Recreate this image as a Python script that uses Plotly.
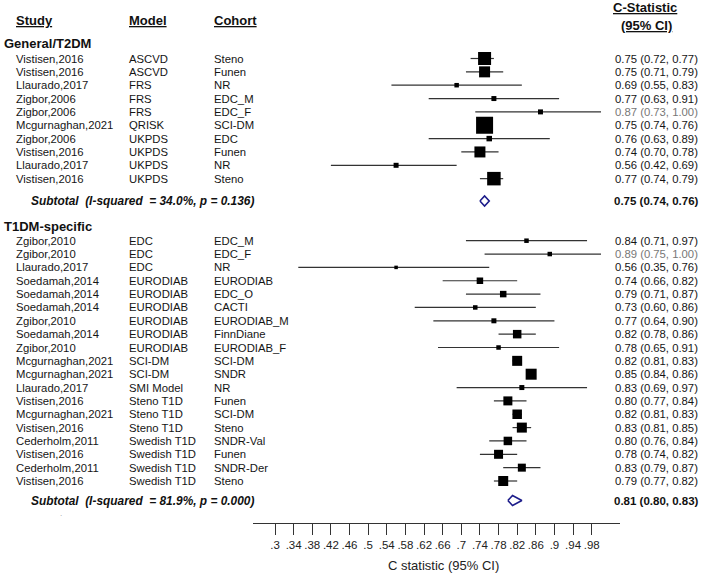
import plotly.graph_objects as go

# General/T2DM
study_t2 = ["Vistisen,2016", "Vistisen,2016", "Llaurado,2017", "Zigbor,2006", "Zigbor,2006",
            "Mcgurnaghan,2021", "Zigbor,2006", "Vistisen,2016", "Llaurado,2017", "Vistisen,2016"]
model_t2 = ["ASCVD", "ASCVD", "FRS", "FRS", "FRS", "QRISK", "UKPDS", "UKPDS", "UKPDS", "UKPDS"]
cohort_t2 = ["Steno", "Funen", "NR", "EDC_M", "EDC_F", "SCI-DM", "EDC", "Funen", "NR", "Steno"]
est_t2 = [0.75, 0.75, 0.69, 0.77, 0.87, 0.75, 0.76, 0.74, 0.56, 0.77]
lo_t2 = [0.72, 0.71, 0.55, 0.63, 0.73, 0.74, 0.63, 0.70, 0.42, 0.74]
hi_t2 = [0.77, 0.79, 0.83, 0.91, 1.00, 0.76, 0.89, 0.78, 0.69, 0.79]
weight_t2 = [13, 11, 4.5, 5, 5, 17, 5.5, 11, 5, 13.5]   # box widths
sub_t2 = (0.75, 0.74, 0.76)
het_t2 = "I-squared  = 34.0%, p = 0.136"

# T1DM-specific
study_t1 = ["Zgibor,2010", "Zgibor,2010", "Llaurado,2017", "Soedamah,2014", "Soedamah,2014",
            "Soedamah,2014", "Zgibor,2010", "Soedamah,2014", "Zgibor,2010", "Mcgurnaghan,2021",
            "Mcgurnaghan,2021", "Llaurado,2017", "Vistisen,2016", "Mcgurnaghan,2021",
            "Vistisen,2016", "Cederholm,2011", "Vistisen,2016", "Cederholm,2011", "Vistisen,2016"]
model_t1 = ["EDC", "EDC", "EDC", "EURODIAB", "EURODIAB", "EURODIAB", "EURODIAB", "EURODIAB",
            "EURODIAB", "SCI-DM", "SCI-DM", "SMI Model", "Steno T1D", "Steno T1D", "Steno T1D",
            "Swedish T1D", "Swedish T1D", "Swedish T1D", "Swedish T1D"]
cohort_t1 = ["EDC_M", "EDC_F", "NR", "EURODIAB", "EDC_O", "CACTI", "EURODIAB_M", "FinnDiane",
             "EURODIAB_F", "SCI-DM", "SNDR", "NR", "Funen", "SCI-DM", "Steno", "SNDR-Val",
             "Funen", "SNDR-Der", "Steno"]
est_t1 = [0.84, 0.89, 0.56, 0.74, 0.79, 0.73, 0.77, 0.82, 0.78, 0.82, 0.85, 0.83, 0.80, 0.82,
          0.83, 0.80, 0.78, 0.83, 0.79]
lo_t1 = [0.71, 0.75, 0.35, 0.66, 0.71, 0.60, 0.64, 0.78, 0.65, 0.81, 0.84, 0.69, 0.77, 0.81,
         0.81, 0.76, 0.74, 0.79, 0.77]
hi_t1 = [0.97, 1.00, 0.76, 0.82, 0.87, 0.86, 0.90, 0.86, 0.91, 0.83, 0.86, 0.97, 0.84, 0.83,
         0.85, 0.84, 0.82, 0.87, 0.82]
weight_t1 = [4.5, 4.5, 3.5, 6.5, 6.5, 4.5, 5, 8.5, 4.5, 10, 11, 5, 9, 9.5, 10, 8.5, 9, 8, 10]
sub_t1 = (0.81, 0.80, 0.83)
het_t1 = "I-squared  = 81.9%, p = 0.000"

tick_vals = [0.30, 0.34, 0.38, 0.42, 0.46, 0.50, 0.54, 0.58, 0.62, 0.66, 0.70, 0.74, 0.78,
             0.82, 0.86, 0.90, 0.94, 0.98]
tick_text = [".3", ".34", ".38", ".42", ".46", ".5", ".54", ".58", ".62", ".66", ".7", ".74",
             ".78", ".82", ".86", ".9", ".94", ".98"]

FONT = "Liberation Sans, Arial, sans-serif"
W, H = 705, 575
AXIS_Y = 523
STEP = 13.35
NAVY = "#1c1c8a"

# row layout (y in pixels from the top)
y_t2 = [58.5 + i * STEP for i in range(len(est_t2))]
y_sub2 = 201
y_head1 = 226.7
y_t1 = [240.7 + i * STEP for i in range(len(est_t1))]
y_sub1 = 500.5

fig = go.Figure()
ann = []


def txt(x, y, s, size=11.3, color="#151515", anchor="left"):
    ann.append(dict(x=x / W, y=y, xref="paper", yref="y", text=s, showarrow=False,
                    xanchor=anchor, yanchor="middle", borderpad=0,
                    font=dict(family=FONT, size=size, color=color)))


for ys, st, mo, co, es, lo, hi, wt in [
        (y_t2, study_t2, model_t2, cohort_t2, est_t2, lo_t2, hi_t2, weight_t2),
        (y_t1, study_t1, model_t1, cohort_t1, est_t1, lo_t1, hi_t1, weight_t1)]:
    cx, cy = [], []
    for y, l, h in zip(ys, lo, hi):
        cx += [l, h, None]
        cy += [y, y, None]
    fig.add_trace(go.Scatter(x=cx, y=cy, mode="lines", line=dict(color="#333", width=1.2),
                             hoverinfo="skip", showlegend=False))
    fig.add_trace(go.Scatter(x=es, y=ys, mode="markers",
                             marker=dict(symbol="square", size=wt, color="#000", opacity=1,
                                         line=dict(width=0)),
                             cliponaxis=False, showlegend=False))
    for y, s, m, c, e, l, h in zip(ys, st, mo, co, es, lo, hi):
        txt(15, y, s)
        txt(128, y, m)
        txt(213, y, c)
        col = "#777" if h >= 1.0 else "#151515"
        txt(614, y, f"{e:.2f} ({l:.2f}, {h:.2f})", color=col)

for (e, l, h), y, het in [(sub_t2, y_sub2, het_t2), (sub_t1, y_sub1, het_t1)]:
    fig.add_trace(go.Scatter(x=[l, e, h, e, l], y=[y, y - 5, y, y + 5, y], mode="lines",
                             fill="toself", fillcolor="white",
                             line=dict(color=NAVY, width=1.6), showlegend=False))
    txt(30, y, f"<b><i>Subtotal  ({het})</i></b>", size=11.9, color="#111")
    txt(613, y, f"<b>{e:.2f} ({l:.2f}, {h:.2f})</b>", size=11.5, color="#111")

# headers
txt(15, 20.5, "<b><u>Study</u></b>", size=13, color="#111")
txt(128, 20.5, "<b><u>Model</u></b>", size=13, color="#111")
txt(213, 20.5, "<b><u>Cohort</u></b>", size=13, color="#111")
txt(645, 7.5, "<b><u>C-Statistic</u></b>", size=13, color="#111", anchor="center")
txt(646, 25.5, "<b><u>(95% CI)</u></b>", size=13, color="#111", anchor="center")
txt(3, 43.3, "<b>General/T2DM</b>", size=13, color="#111")
txt(3, y_head1, "<b>T1DM-specific</b>", size=13, color="#111")
txt(59, 513, ".", size=8, color="#999")

ann.append(dict(x=443 / W, y=-(565 - AXIS_Y) / AXIS_Y, xref="paper", yref="paper",
                text="C statistic (95% CI)", showarrow=False, xanchor="center", yanchor="middle",
                font=dict(family=FONT, size=13, color="#222")))

x0, x1 = 253, 620
px_per = (591.7 - 275) / 0.68
fig.update_layout(
    width=W, height=H,
    margin=dict(l=0, r=0, t=0, b=H - AXIS_Y),
    paper_bgcolor="white", plot_bgcolor="white",
    annotations=ann,
    xaxis=dict(domain=[x0 / W, x1 / W],
               range=[0.3 - (275 - x0) / px_per, 0.3 + (x1 - 275) / px_per],
               showline=True, linecolor="#333", linewidth=1,
               ticks="outside", ticklen=11, tickwidth=1, tickcolor="#333",
               tickvals=tick_vals, ticktext=tick_text, tickangle=0,
               tickfont=dict(family=FONT, size=11.5, color="#222"),
               showgrid=False, zeroline=False, fixedrange=True),
    yaxis=dict(range=[AXIS_Y, 0], visible=False, showgrid=False, zeroline=False,
               fixedrange=True),
)

# drop the page's default body margin so the figure sits at the window's corner
fig.write_html("out.html", config={"displayModeBar": False},
               post_script="document.body.style.margin = '0px';")
